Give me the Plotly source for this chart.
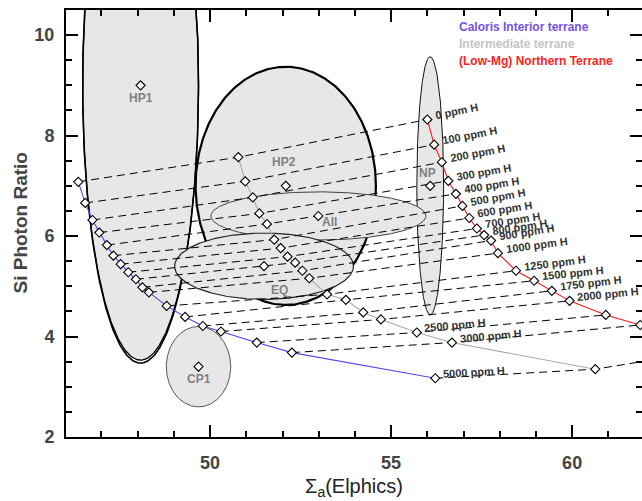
import math
import numpy as np
import plotly.graph_objects as go

# ---------------- data ----------------
h_levels = [0, 100, 200, 300, 400, 500, 600, 700, 800, 900, 1000,
            1250, 1500, 1750, 2000, 2500, 3000, 5000]
h_labels = [f"{h} ppm H" for h in h_levels]
# which curve each concentration label sits on
label_curve = ["red"] * 15 + ["gray", "gray", "blue"]

blue_x = [46.36, 46.55, 46.75, 46.94, 47.15, 47.33, 47.53, 47.74, 47.95, 48.13,
          48.31, 48.80, 49.31, 49.80, 50.30, 51.29, 52.26, 56.22]
blue_y = [7.08, 6.66, 6.32, 6.07, 5.82, 5.61, 5.44, 5.28, 5.14, 4.98,
          4.88, 4.61, 4.39, 4.21, 4.10, 3.88, 3.68, 3.17]

gray_x = [50.78, 50.97, 51.18, 51.36, 51.57, 51.77, 51.95, 52.14, 52.35, 52.55,
          52.74, 53.23, 53.75, 54.23, 54.72, 55.71, 56.68, 60.64]
gray_y = [7.57, 7.09, 6.77, 6.45, 6.24, 5.93, 5.76, 5.59, 5.47, 5.31,
          5.16, 4.84, 4.73, 4.48, 4.34, 4.08, 3.88, 3.35]

red_x = [56.00, 56.19, 56.40, 56.58, 56.79, 56.97, 57.16, 57.37, 57.57, 57.76,
         57.95, 58.45, 58.95, 59.44, 59.93, 60.93, 61.88, 65.00]
red_y = [8.32, 7.82, 7.47, 7.10, 6.84, 6.60, 6.36, 6.15, 6.02, 5.91,
         5.66, 5.31, 5.11, 4.91, 4.71, 4.43, 4.23, 3.86]

cluster_names = ["HP1", "NP", "HP2", "All", "EQ", "CP1"]
cluster_x = [48.08, 56.08, 52.09, 52.99, 51.49, 49.68]
cluster_y = [9.00, 7.00, 7.00, 6.40, 5.40, 3.40]
cluster_sx = [1.60, 0.37, 2.49, 2.97, 2.47, 0.89]
cluster_sy = [5.47, 2.57, 2.37, 0.48, 0.66, 0.80]

legend_names = ["Caloris Interior terrane", "Intermediate terrane",
                "(Low-Mg) Northern Terrane"]

x_ticks = [50, 55, 60]
y_ticks = [2, 4, 6, 8, 10]

# ---------------- style ----------------
X0, X1 = 46.02, 61.93
Y0, Y1 = 2.0, 10.5
W, H = 642, 501
ML, MR, MT, MB = 66, 0, 10, 64
PW, PH = W - ML - MR, H - MT - MB
SX, SY = PW / (X1 - X0), PH / (Y1 - Y0)

FONT = "Liberation Sans, Arial, Helvetica, sans-serif"
BLUE, GRAY, RED = "#6340f0", "#aaaaaa", "#ff1a1a"
FILL = "#e7e7e7"

ell_line_color = {"HP1": "#000000", "NP": "#111111", "HP2": "#000000",
                  "All": "#444444", "EQ": "#222222", "CP1": "#555555"}
ell_line_width = {"HP1": 1.3, "NP": 1.0, "HP2": 2.2, "All": 1.0, "EQ": 1.2, "CP1": 1.0}
# label offsets (px) relative to cluster diamond
lab_off = {"HP1": (0, -13), "NP": (-3, 13), "HP2": (-2, 24), "All": (11, -6),
           "EQ": (15, -24), "CP1": (0, -12)}

fig = go.Figure()
t = np.linspace(0, 2 * np.pi, 361)

# ellipses
for name, cx, cy, rx, ry in zip(cluster_names, cluster_x, cluster_y, cluster_sx, cluster_sy):
    fig.add_trace(go.Scatter(
        x=cx + rx * np.cos(t), y=cy + ry * np.sin(t), mode="lines",
        fill="toself", fillcolor=FILL,
        line=dict(color=ell_line_color[name], width=ell_line_width[name]),
        hoverinfo="skip", showlegend=False))
    if name == "HP1":
        fig.add_trace(go.Scatter(
            x=cx + rx * np.cos(t), y=cy + (ry + 0.06) * np.sin(t), mode="lines",
            line=dict(color="#000000", width=1.6),
            hoverinfo="skip", showlegend=False))

# dashed connectors for each H level
for i in range(len(h_levels)):
    fig.add_trace(go.Scatter(
        x=[blue_x[i], gray_x[i], red_x[i]], y=[blue_y[i], gray_y[i], red_y[i]],
        mode="lines", line=dict(color="#000000", width=1, dash="8px,5px"),
        hoverinfo="skip", showlegend=False))

marker = dict(symbol="diamond", size=7, color="white",
              line=dict(color="black", width=1.1))
for xs, ys, col, nm in [(blue_x, blue_y, BLUE, legend_names[0]),
                        (gray_x, gray_y, GRAY, legend_names[1]),
                        (red_x, red_y, RED, legend_names[2])]:
    fig.add_trace(go.Scatter(x=xs, y=ys, mode="lines+markers", name=nm,
                             line=dict(color=col, width=1.1), marker=marker,
                             showlegend=False))

fig.add_trace(go.Scatter(x=cluster_x, y=cluster_y, mode="markers",
                         marker=marker, showlegend=False, hoverinfo="skip"))

annotations = []
# cluster labels
for name, cx, cy in zip(cluster_names, cluster_x, cluster_y):
    dx, dy = lab_off[name]
    annotations.append(dict(x=cx, y=cy, xref="x", yref="y", text=name,
                            showarrow=False, xshift=dx, yshift=dy,
                            font=dict(family=FONT, size=12, color="#808080", weight="bold")))

# concentration labels
curves = {"blue": (blue_x, blue_y), "gray": (gray_x, gray_y), "red": (red_x, red_y)}
for i, (lab, cv) in enumerate(zip(h_labels, label_curve)):
    ax, ay = curves[cv][0][i], curves[cv][1][i]
    if cv == "red":
        px, py = gray_x[i], gray_y[i]
        qx, qy = ax, ay
    elif cv == "gray":
        px, py = ax, ay
        qx, qy = red_x[i], red_y[i]
    else:
        px, py = ax, ay
        qx, qy = gray_x[i], gray_y[i]
    ang = -math.degrees(math.atan2((qy - py) * SY, (qx - px) * SX))
    annotations.append(dict(x=ax, y=ay, xref="x", yref="y", text=lab,
                            showarrow=False, textangle=ang,
                            xanchor="left", yanchor="bottom", xshift=5, yshift=-4,
                            font=dict(family=FONT, size=11, color="#333333", weight="bold")))

# legend text
for k, (nm, col) in enumerate(zip(legend_names, ["#7650e6", "#c4c4c4", "#ff2020"])):
    annotations.append(dict(x=(457 - ML) / PW, y=(H - MB - (27 + 17 * k)) / PH,
                            xref="paper", yref="paper", text=nm, showarrow=False,
                            xanchor="left", yanchor="middle",
                            font=dict(family=FONT, size=12, color=col, weight="bold")))

# axis titles
annotations.append(dict(x=(20 - ML) / PW, y=0.5, xref="paper", yref="paper",
                        text="Si Photon Ratio", showarrow=False, textangle=-90,
                        xanchor="center", yanchor="middle",
                        font=dict(family=FONT, size=19, color="#444444", weight="bold")))
annotations.append(dict(x=(354 - ML) / PW, y=-(488 - (H - MB)) / PH, xref="paper", yref="paper",
                        text="Σ<sub>a</sub>(Elphics)", showarrow=False,
                        xanchor="center", yanchor="middle",
                        font=dict(family=FONT, size=20, color="#222222")))

axis_common = dict(showgrid=False, zeroline=False, showline=True, linecolor="black",
                   linewidth=2, mirror="ticks", ticks="inside", ticklen=12,
                   tickwidth=2, tickcolor="black", automargin=False,
                   tickfont=dict(family=FONT, size=18, color="#444444", weight="bold"))

fig.update_layout(
    width=W, height=H, margin=dict(l=ML, r=MR, t=MT, b=MB, autoexpand=False),
    paper_bgcolor="white", plot_bgcolor="white",
    xaxis=dict(range=[X0, X1], tickmode="array", tickvals=x_ticks,
               ticklabelstandoff=8,
               minor=dict(ticks="inside", ticklen=6, tickwidth=1.5, dtick=1, tick0=0,
                          tickcolor="black"),
               **axis_common),
    yaxis=dict(range=[Y0, Y1], tickmode="array", tickvals=y_ticks,
               ticklabelstandoff=6,
               minor=dict(ticks="inside", ticklen=6, tickwidth=1.5, dtick=0.5, tick0=0,
                          tickcolor="black"),
               **axis_common),
    annotations=annotations,
)

fig.write_html("out.html", config={"displayModeBar": False},
               post_script="document.body.style.margin='0';"
                           "document.body.style.overflow='hidden';")
